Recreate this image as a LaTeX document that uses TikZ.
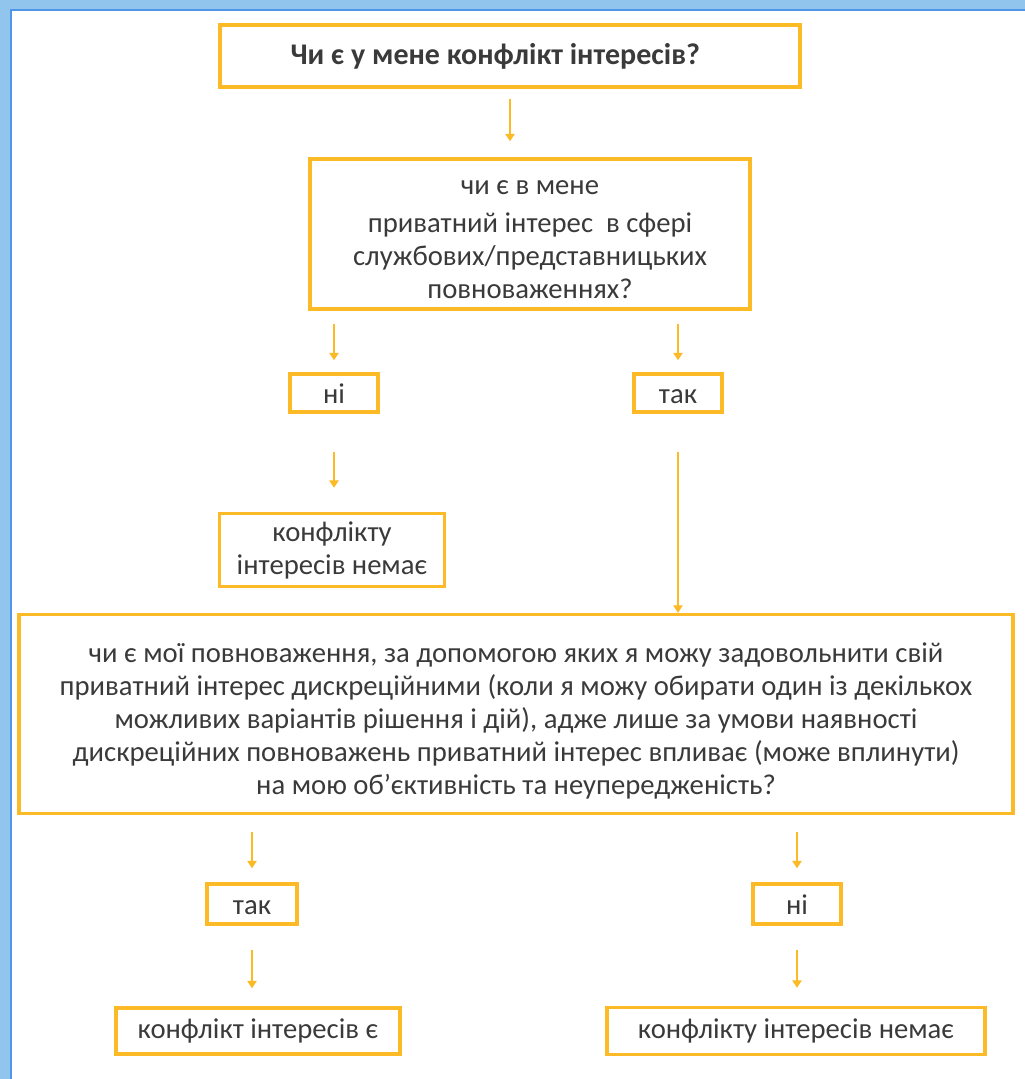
\documentclass[tikz,border=0pt]{standalone}
\usepackage{fontspec}
\setmainfont{Carlito}
\usetikzlibrary{arrows.meta,positioning}
\definecolor{gold}{RGB}{252,187,38}
\definecolor{txtgray}{RGB}{58,58,58}
\definecolor{framelight}{RGB}{146,197,238}
\definecolor{frameline}{RGB}{80,150,232}
\newcommand\boxfont{\fontsize{21.5}{24.75}\selectfont}
\tikzset{
	box/.style={draw=gold, line width=2.6pt, inner sep=0pt, align=center, text=txtgray, font=\boxfont},
	ans/.style={box, text height=17pt, text depth=1pt},
	arr/.style={draw=gold, line width=0.8pt, -{Triangle[width=7pt,length=5.5pt]}},
}

\begin{document}
\begin{tikzpicture}[x=0.75pt,y=-0.75pt]
		\useasboundingbox (0,0) rectangle (1025,1079);

		% Window frame
		\fill[framelight] (0,0) rectangle (1025,10);
		\fill[framelight] (0,0) rectangle (11,1079);
		\draw[frameline, line width=1pt] (11,1079) -- (11,10) -- (1025,10);

		% First question
		\node[box, minimum width=435pt, minimum height=46.5pt, font=\fontsize{22.5}{26}\selectfont\bfseries] (q1) at (510,56) {\hspace*{-22pt}Чи є у мене конфлікт інтересів?};
		\node[box, minimum width=330pt, minimum height=112.5pt] (q2) at (530,234) {\rule{0pt}{18.5pt}чи є в мене\\[4pt] приватний інтерес \ в сфері\\ службових/представницьких\\ повноваженнях?};

		% Answers to q2
		\node[ans, minimum width=66pt, minimum height=28.5pt] (no1) at (334,393) {ні};
		\node[ans, minimum width=66pt, minimum height=28.5pt] (yes1) at (678,393) {так};
		\node[box, minimum width=168.75pt, minimum height=54.75pt] (none1) at (332,550) {конфлікту\\ інтересів немає};

		% Second question
		\node[box, minimum width=745.5pt, minimum height=149.25pt] (q3) at (516,714) {\rule{0pt}{25pt}чи є мої повноваження, за допомогою яких я можу задовольнити свій\\ приватний інтерес дискреційними (коли я можу обирати один із декількох\\ можливих варіантів рішення і дій), адже лише за умови наявності\\ дискреційних повноважень приватний інтерес впливає (може вплинути)\\ на мою об’єктивність та неупередженість?};

		% Answers to q3
		\node[ans, minimum width=67.5pt, minimum height=30pt] (yes2) at (252,904) {так};
		\node[ans, minimum width=66pt, minimum height=30pt] (no2) at (797,904) {ні};
		\node[box, minimum width=213pt, minimum height=34.5pt] (res1) at (258,1031) {конфлікт інтересів є};
		\node[box, minimum width=283.5pt, minimum height=35.25pt] (res2) at (796,1031) {конфлікту інтересів немає};

		% Arrows
		\draw[arr, shorten <=7.5pt, shorten >=12pt] (q1.south) -- (q1.south |- q2.north);
		\draw[arr, shorten <=9.75pt, shorten >=9pt] (no1.north |- q2.south) -- (no1.north);
		\draw[arr, shorten <=9.75pt, shorten >=9pt] (yes1.north |- q2.south) -- (yes1.north);
		\draw[arr, shorten <=28.5pt, shorten >=18pt] (no1.south) -- (no1.south |- none1.north);
		\draw[arr, shorten <=28.5pt] (yes1.south) -- (yes1.south |- q3.north);
		\draw[arr, shorten <=12.75pt, shorten >=10.5pt] (yes2.north |- q3.south) -- (yes2.north);
		\draw[arr, shorten <=12.75pt, shorten >=10.5pt] (no2.north |- q3.south) -- (no2.north);
		\draw[arr, shorten <=18pt, shorten >=13.5pt] (yes2.south) -- (yes2.south |- res1.north);
		\draw[arr, shorten <=18pt, shorten >=13.5pt] (no2.south) -- (no2.south |- res2.north);
	\end{tikzpicture}
\end{document}
